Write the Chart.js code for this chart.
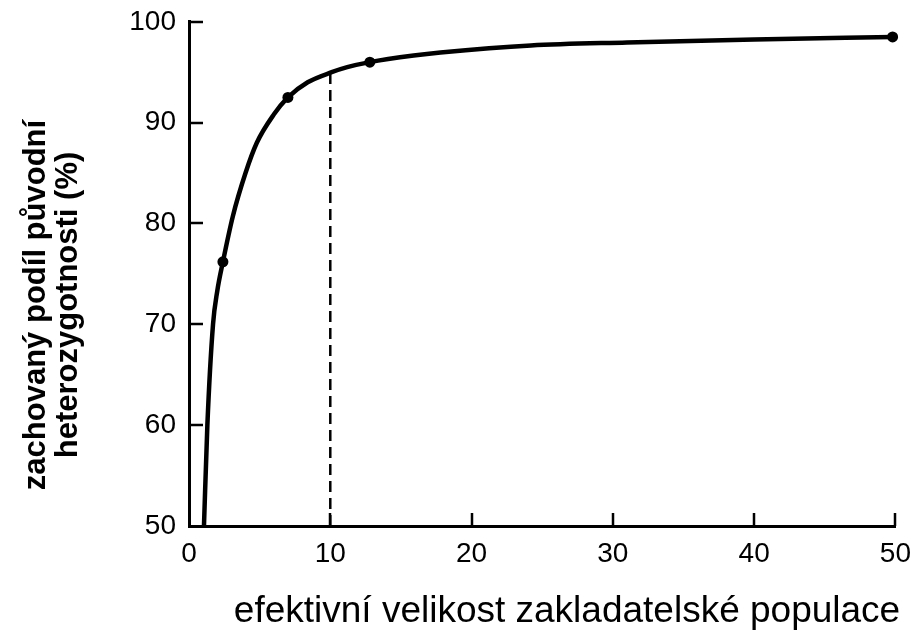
<!DOCTYPE html>
<html>
<head>
<meta charset="utf-8">
<script src="https://cdn.jsdelivr.net/npm/chart.js@4/dist/chart.umd.min.js"></script>
<style>
  html, body { margin: 0; padding: 0; background: #fff; }
</style>
</head>
<body>
<canvas id="myChart" width="914" height="634"></canvas>
<script>
// curve (effective founder size -> % heterozygosity kept)
const curveX = [1.06, 1.3, 1.7, 2.0, 2.4, 3.1, 4.0, 4.8, 6.0, 7.0, 8.4, 10.1, 11.2, 12.8, 15.9, 17.8, 24.2, 31, 40, 49.8];
const curveY = [50, 60, 70, 73.3, 76.2, 80.7, 85.0, 88.0, 90.8, 92.5, 94.0, 95.0, 95.5, 96.0, 96.65, 96.95, 97.65, 97.95, 98.25, 98.5];
// the four marked points
const pointX = [2.4, 7.0, 12.8, 49.8];
const pointY = [76.2, 92.5, 96.0, 98.5];
// dashed drop line at N = 10
const dashX = [10, 10];
const dashY = [50, 95];

const xTicks = [0, 10, 20, 30, 40, 50];
const yTicks = [50, 60, 70, 80, 90, 100];
const xTitle = 'efektivní velikost zakladatelské populace';
const yTitle = ['zachovaný podíl původní', 'heterozygotnosti (%)'];

const FONT = '"Liberation Sans", Arial, Helvetica, sans-serif';

const toXY = (xs, ys) => xs.map((x, i) => ({ x: x, y: ys[i] }));

// ticks point into the plot, and axis titles placed like the original
const innerTicks = {
    id: 'innerTicks',
    afterDraw(chart) {
        const { ctx, chartArea: a, scales: { x, y } } = chart;
        ctx.save();
        ctx.strokeStyle = '#000';
        ctx.lineWidth = 2.5;
        ctx.beginPath();
        yTicks.slice(1).forEach(v => {
            const py = Math.round(y.getPixelForValue(v));
            ctx.moveTo(a.left, py);
            ctx.lineTo(a.left + 14, py);
        });
        xTicks.slice(1).forEach(v => {
            const px = Math.round(x.getPixelForValue(v));
            ctx.moveTo(px, a.bottom);
            ctx.lineTo(px, a.bottom - 13);
        });
        ctx.stroke();

        ctx.fillStyle = '#000';
        ctx.textAlign = 'center';
        ctx.textBaseline = 'alphabetic';
        ctx.font = '37px ' + FONT;
        ctx.fillText(xTitle, 567, 622);

        ctx.font = 'bold 31px ' + FONT;
        ctx.textBaseline = 'middle';
        ctx.translate(52, 305);
        ctx.rotate(-Math.PI / 2);
        ctx.fillText(yTitle[0], 0, -16);
        ctx.fillText(yTitle[1], 0, 16);
        ctx.restore();
    }
};

const config = {
    type: 'line',
    data: {
        datasets: [
            {
                data: toXY(curveX, curveY),
                borderColor: '#000',
                borderWidth: 4.5,
                pointRadius: 0,
                cubicInterpolationMode: 'monotone',
                clip: false
            },
            {
                data: toXY(dashX, dashY),
                borderColor: '#000',
                borderWidth: 2.5,
                borderDash: [11, 6],
                pointRadius: 0
            },
            {
                data: toXY(pointX, pointY),
                showLine: false,
                pointRadius: 5.5,
                pointBackgroundColor: '#000',
                pointBorderWidth: 0,
                clip: false
            }
        ]
    },
    options: {
        responsive: false,
        animation: false,
        layout: { padding: { top: 4, right: 16, left: 0, bottom: 0 } },
        plugins: {
            legend: { display: false },
            tooltip: { enabled: false }
        },
        scales: {
            x: {
                type: 'linear',
                min: 0,
                max: 50,
                afterBuildTicks: s => { s.ticks = xTicks.map(v => ({ value: v })); },
                afterFit: s => { s.height = 108; },
                grid: { display: false },
                border: { color: '#000', width: 3 },
                ticks: { color: '#000', font: { size: 28, family: FONT }, padding: 3, maxRotation: 0 }
            },
            y: {
                type: 'linear',
                min: 50,
                max: 100,
                afterBuildTicks: s => { s.ticks = yTicks.map(v => ({ value: v })); },
                afterFit: s => { s.width = 189; },
                grid: { display: false },
                border: { color: '#000', width: 3 },
                ticks: { color: '#000', font: { size: 28, family: FONT }, padding: 5 }
            }
        }
    },
    plugins: [innerTicks]
};

let myChart = new Chart(document.getElementById('myChart'), config);
</script>
</body>
</html>
